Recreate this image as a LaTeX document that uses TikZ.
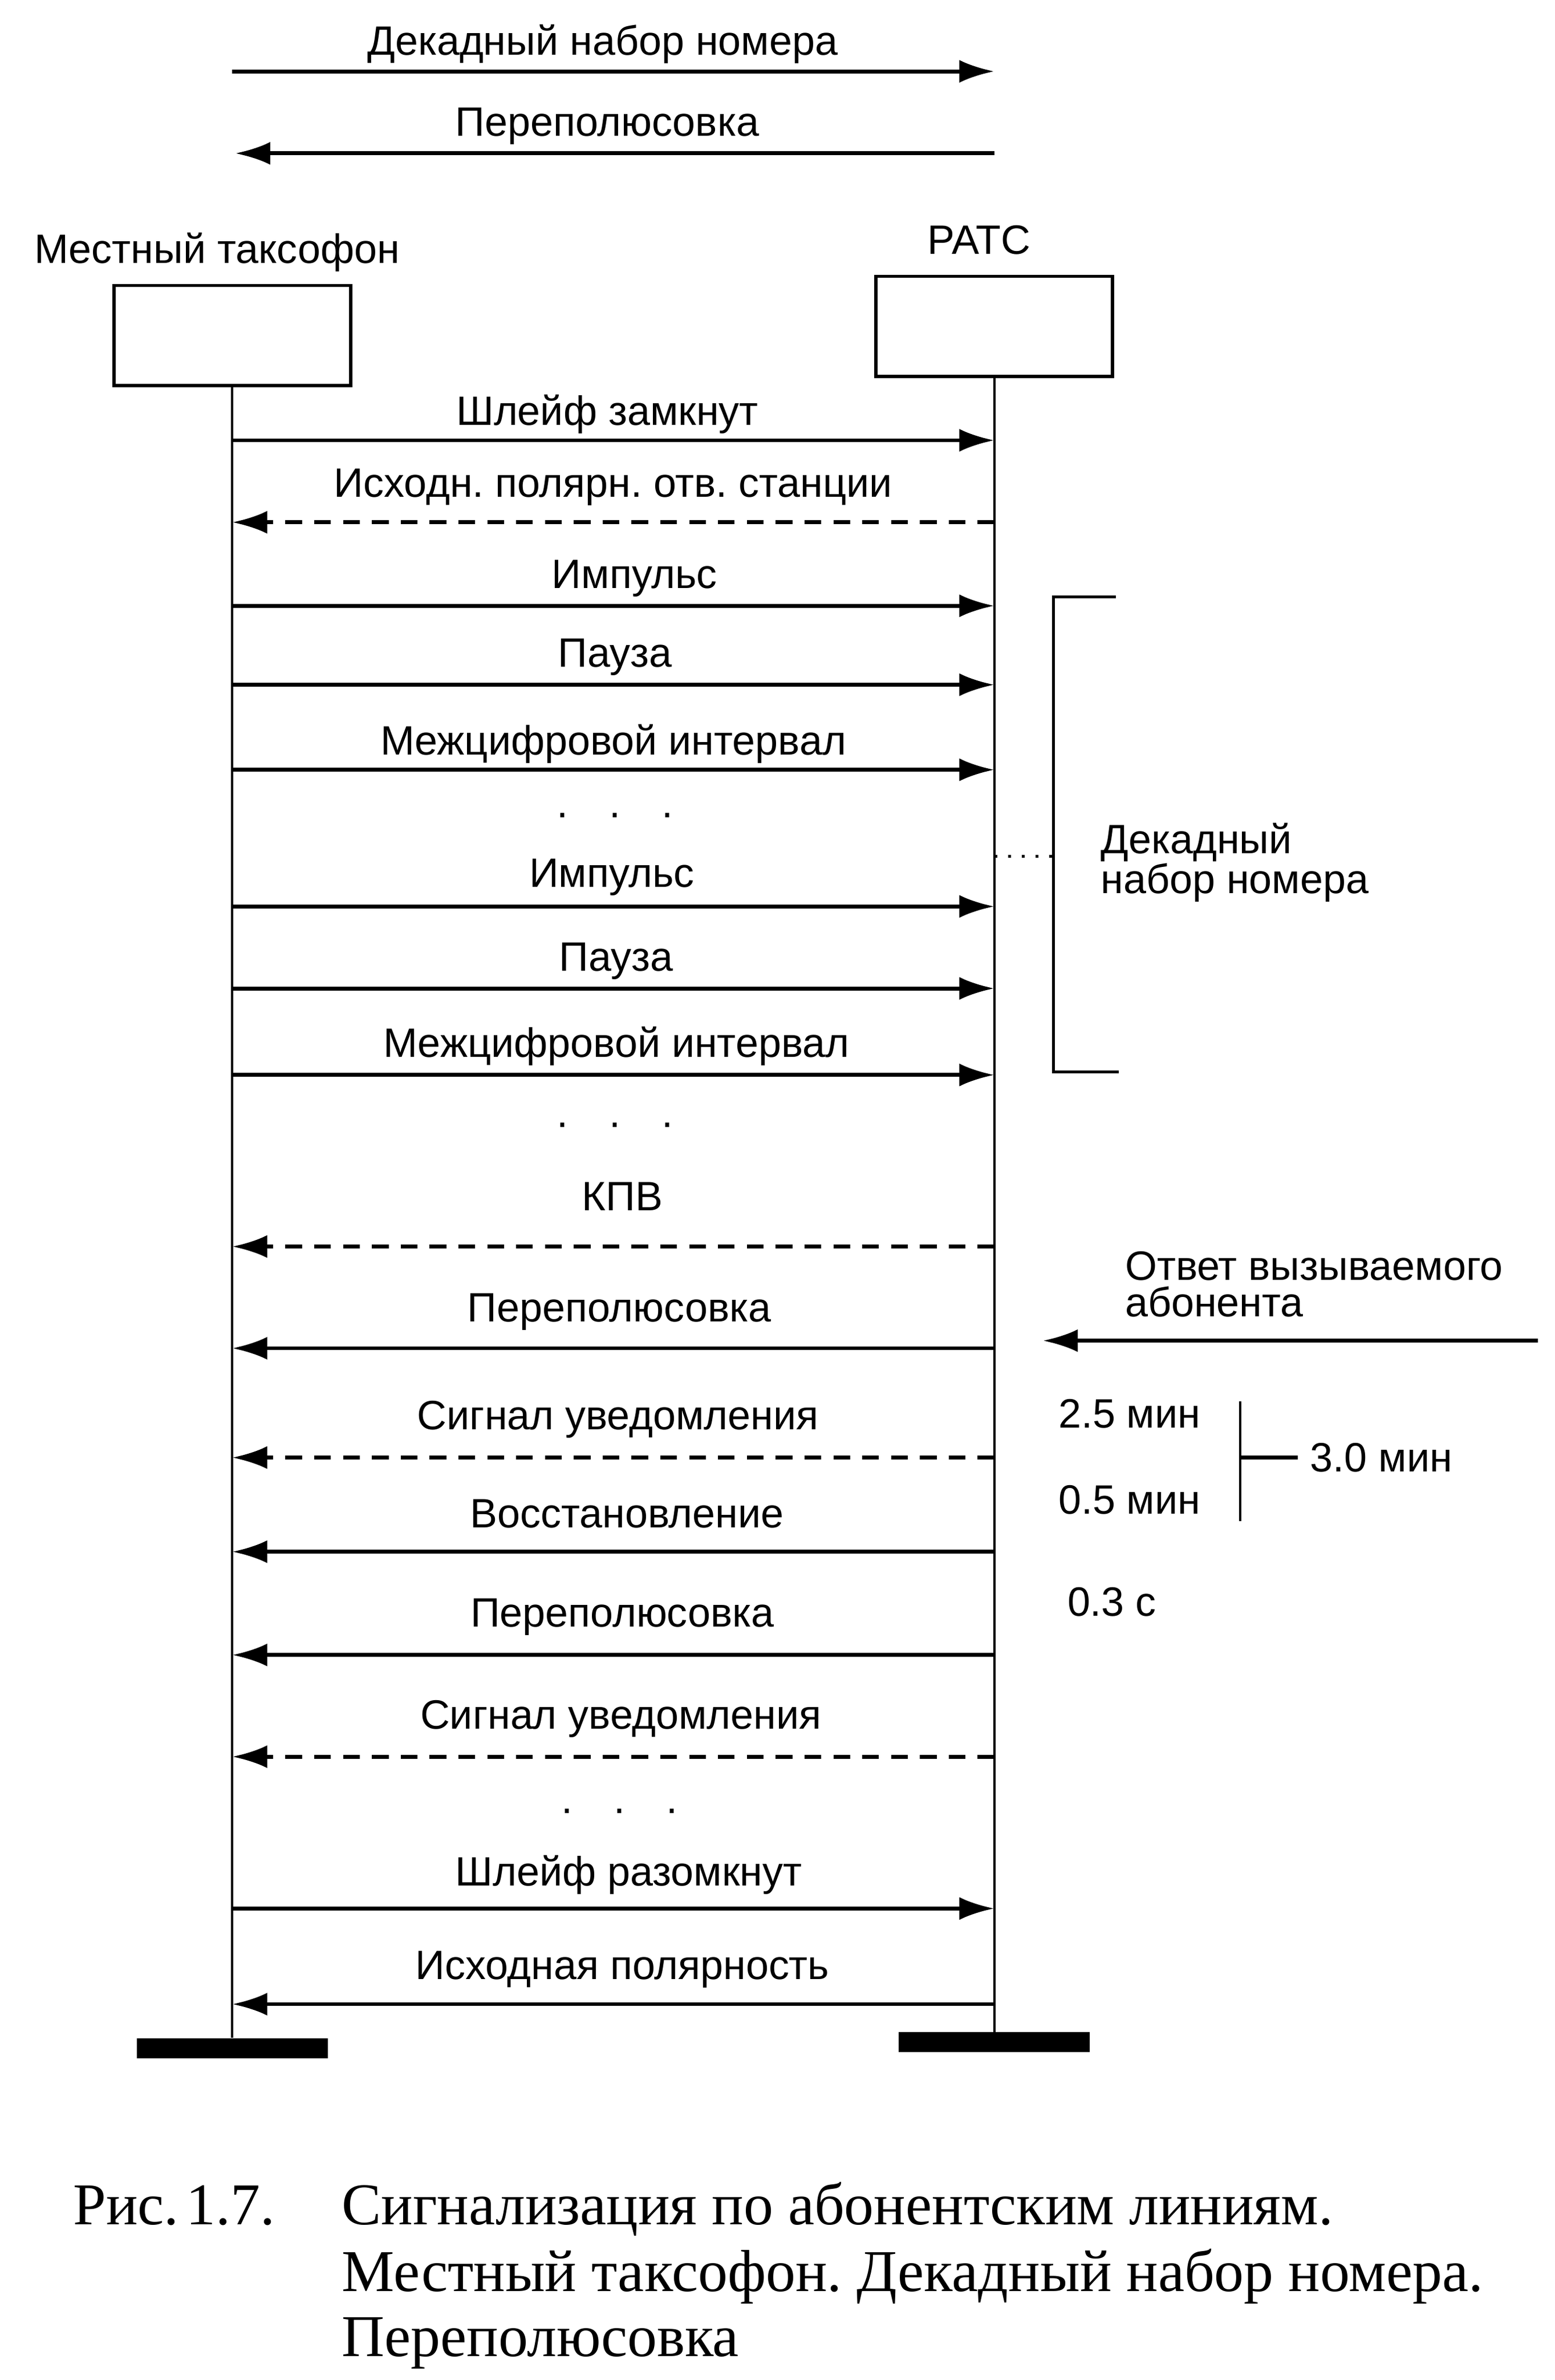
\documentclass[tikz,border=0pt]{standalone}
\usepackage{fontspec}
\setmainfont{Liberation Serif}
\setsansfont{Liberation Sans}
\usetikzlibrary{arrows.meta}
\frenchspacing

\begin{document}
\begin{tikzpicture}[x=1pt,y=-1pt,
  every path/.style={>={Latex[length=23pt,width=15pt]}},
  every node/.style={font=\sffamily\fontsize{27}{24}\selectfont,inner sep=0pt},
  lifebox/.style={draw,line width=2.2pt,minimum width=156pt,minimum height=66pt},
  endbar/.style={fill=black,minimum width=126pt,minimum height=13pt},
  life/.style={line width=1.6pt},
  sig/.style={line width=2.6pt,->},
  dsig/.style={line width=2.6pt,->,dash pattern=on 11pt off 8pt},
  capfont/.style={font=\rmfamily\fontsize{39}{44}\selectfont}]
\useasboundingbox (0,0) rectangle (1024,1567.55);
% legend
\node (leg1) at (397,29) {Декадный набор номера};
\node (leg2) at (400,83) {Переполюсовка};
\coordinate (leg1a) at (153,47);
\coordinate (leg1b) at (655,47);
\coordinate (leg2a) at (655,101);
\coordinate (leg2b) at (155,101);
\draw[sig] (leg1a) -- (leg1b);
\draw[sig] (leg2a) -- (leg2b);
% parties
\node (tphone) at (143,166) {Местный таксофон};
\node (tats)   at (645,158) {РАТС};
\node[lifebox] (phone) at (153,221) {};
\node[lifebox] (ats)   at (655,215) {};
\node[endbar] (phonebar) at (153,1349) {};
\node[endbar] (atsbar)   at (655,1345) {};
\draw[life] (phone.south) -- (phonebar.north);
\draw[life] (ats.south) -- (atsbar.north);
% messages
\node (m1)  at (400,273)  {Шлейф замкнут};
\node (m2)  at (404,321)  {Исходн. полярн. отв. станции};
\node (m3)  at (418,381)  {Импульс};
\node (m4)  at (405,433)  {Пауза};
\node (m5)  at (404,490)  {Межцифровой интервал};
\node (d1)  at (405,537)  {.\quad.\quad.};
\node (m6)  at (403,578)  {Импульс};
\node (m7)  at (406,633)  {Пауза};
\node (m8)  at (406,689)  {Межцифровой интервал};
\node (d2)  at (405,741)  {.\quad.\quad.};
\node (m9)  at (410,788)  {КПВ};
\node (m10) at (408,864)  {Переполюсовка};
\node (m11) at (407,935)  {Сигнал уведомления};
\node (m12) at (413,997)  {Восстановление};
\node (m13) at (410,1065) {Переполюсовка};
\node (m14) at (409,1132) {Сигнал уведомления};
\node (d3)  at (408,1193) {.\quad.\quad.};
\node (m15) at (414,1235) {Шлейф разомкнут};
\node (m16) at (410,1297) {Исходная полярность};
\coordinate (l1)  at (153,290);  \coordinate (r1)  at (655,290);
\coordinate (l2)  at (153,344);  \coordinate (r2)  at (655,344);
\coordinate (l3)  at (153,399);  \coordinate (r3)  at (655,399);
\coordinate (l4)  at (153,451);  \coordinate (r4)  at (655,451);
\coordinate (l5)  at (153,507);  \coordinate (r5)  at (655,507);
\coordinate (l6)  at (153,597);  \coordinate (r6)  at (655,597);
\coordinate (l7)  at (153,651);  \coordinate (r7)  at (655,651);
\coordinate (l8)  at (153,708);  \coordinate (r8)  at (655,708);
\coordinate (l9)  at (153,821);  \coordinate (r9)  at (655,821);
\coordinate (l10) at (153,888);  \coordinate (r10) at (655,888);
\coordinate (l11) at (153,960);  \coordinate (r11) at (655,960);
\coordinate (l12) at (153,1022); \coordinate (r12) at (655,1022);
\coordinate (l13) at (153,1090); \coordinate (r13) at (655,1090);
\coordinate (l14) at (153,1157); \coordinate (r14) at (655,1157);
\coordinate (l15) at (153,1257); \coordinate (r15) at (655,1257);
\coordinate (l16) at (153,1320); \coordinate (r16) at (655,1320);
\draw[sig]  (l1)  -- (r1);
\draw[dsig] (r2)  -- (l2);
\draw[sig]  (l3)  -- (r3);
\draw[sig]  (l4)  -- (r4);
\draw[sig]  (l5)  -- (r5);
\draw[sig]  (l6)  -- (r6);
\draw[sig]  (l7)  -- (r7);
\draw[sig]  (l8)  -- (r8);
\draw[dsig] (r9)  -- (l9);
\draw[sig]  (r10) -- (l10);
\draw[dsig] (r11) -- (l11);
\draw[sig]  (r12) -- (l12);
\draw[sig]  (r13) -- (l13);
\draw[dsig] (r14) -- (l14);
\draw[sig]  (l15) -- (r15);
\draw[sig]  (r16) -- (l16);
% dialling bracket
\node[anchor=west,align=left] (tdec) at (725,568) {Декадный\\набор номера};
\coordinate (brtop) at (735,393);
\coordinate (brbot) at (737,706);
\coordinate (brmid) at (694,564);
\draw[line width=1.8pt] (brtop) -- (694,393) -- (694,706) -- (brbot);
\draw[line width=1.8pt,dash pattern=on 2pt off 7pt] (r6 |- brmid) -- (brmid);
% answer and timers
\node[anchor=west,align=left] (tans) at (741,846) {Ответ вызываемого\\абонента};
\coordinate (ansa) at (1013,883);
\coordinate (ansb) at (687,883);
\draw[sig] (ansa) -- (ansb);
\node[anchor=west] (t25) at (697,931)  {2.5 мин};
\node[anchor=west] (t05) at (697,988)  {0.5 мин};
\node[anchor=west] (t30) at (863,960)  {3.0 мин};
\node[anchor=west] (t03) at (703,1055) {0.3 с};
\coordinate (sumtop) at (817,923);
\coordinate (sumbot) at (817,1002);
\draw[line width=1.8pt] (sumtop) -- (sumbot);
\draw[line width=2.4pt,shorten >=8pt] (sumtop |- t30) -- (t30.west);
% caption
\node[capfont,anchor=base west] (fignum) at (48,1465)  {Рис.\hspace{5pt}1.7.};
\node[capfont,anchor=base west] (cap1)   at (225,1465) {Сигнализация по абонентским линиям.};
\node[capfont,anchor=base west] (cap2)   at (225,1509) {Местный таксофон. Декадный набор номера.};
\node[capfont,anchor=base west] (cap3)   at (225,1552) {Переполюсовка};
\end{tikzpicture}
\end{document}
